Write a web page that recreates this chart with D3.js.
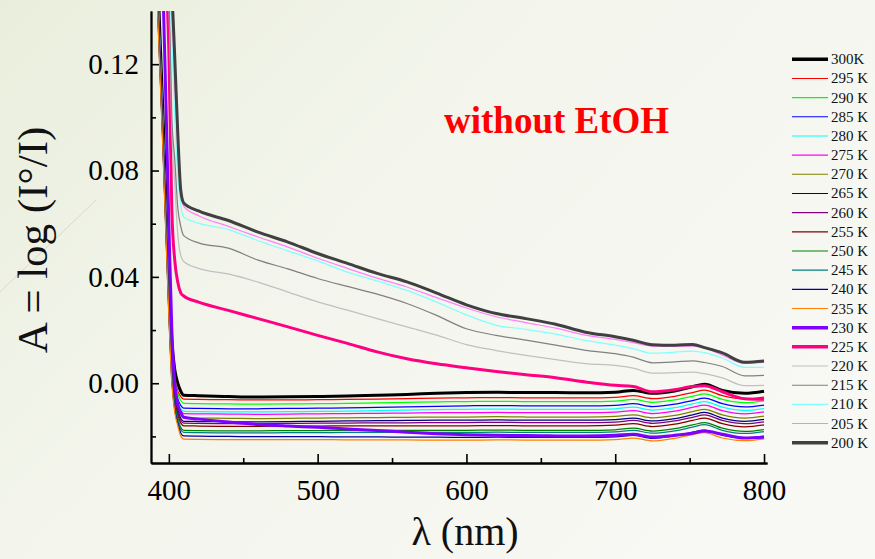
<!DOCTYPE html>
<html>
<head>
<meta charset="utf-8">
<script src="https://cdn.jsdelivr.net/npm/d3@7"></script>
<style>
  html, body { margin: 0; padding: 0; background: #f2f4ea; }
  svg { display: block; }
</style>
</head>
<body>
<div id="chart"></div>
<script>
// Wavelength grid (nm) shared by every spectrum
const wavelengths = [392, 396, 400, 402, 404, 406, 408, 410, 420, 440, 460, 480, 500, 520, 540, 560, 580, 600, 620, 640, 660, 680, 700, 712, 725, 740, 752, 760, 772, 787, 800];

// Temperature labels (legend order)
const temps = ["300K", "295 K", "290 K", "285 K", "280 K", "275 K", "270 K", "265 K", "260 K", "255 K", "250 K", "245 K", "240 K", "235 K", "230 K", "225 K", "220 K", "215 K", "210 K", "205 K", "200 K"];

// Absorbance A = log(I°/I) for each temperature
const a300 = [0.160, 0.102, 0.040, 0.016, 0.005, 0.000, -0.003, -0.0045, -0.0047, -0.0050, -0.0052, -0.0051, -0.0050, -0.0048, -0.0045, -0.0042, -0.0038, -0.0035, -0.0034, -0.0035, -0.0035, -0.0036, -0.0034, -0.0027, -0.0038, -0.0029, -0.0013, -0.0004, -0.0027, -0.0038, -0.0030];
const a295 = [0.158, 0.100, 0.037, 0.013, 0.002, -0.003, -0.005, -0.0060, -0.0061, -0.0062, -0.0063, -0.0063, -0.0062, -0.0061, -0.0060, -0.0058, -0.0056, -0.0055, -0.0054, -0.0055, -0.0055, -0.0055, -0.0053, -0.0047, -0.0058, -0.0049, -0.0035, -0.0026, -0.0047, -0.0059, -0.0052];
const a290 = [0.157, 0.099, 0.036, 0.012, 0.001, -0.004, -0.0065, -0.0076, -0.0077, -0.0078, -0.0079, -0.0078, -0.0077, -0.0076, -0.0074, -0.0072, -0.0070, -0.0069, -0.0068, -0.0069, -0.0069, -0.0069, -0.0067, -0.0061, -0.0072, -0.0063, -0.0049, -0.0040, -0.0061, -0.0073, -0.0066];
const a285 = [0.156, 0.098, 0.035, 0.010, -0.001, -0.006, -0.0083, -0.0094, -0.0095, -0.0096, -0.0096, -0.0095, -0.0094, -0.0093, -0.0091, -0.0089, -0.0087, -0.0085, -0.0084, -0.0085, -0.0085, -0.0085, -0.0083, -0.0077, -0.0088, -0.0079, -0.0065, -0.0056, -0.0077, -0.0089, -0.0082];
const a280 = [0.155, 0.097, 0.034, 0.009, -0.002, -0.007, -0.0095, -0.0106, -0.0107, -0.0108, -0.0108, -0.0107, -0.0106, -0.0105, -0.0103, -0.0101, -0.0099, -0.0098, -0.0097, -0.0098, -0.0098, -0.0098, -0.0096, -0.0090, -0.0101, -0.0092, -0.0078, -0.0069, -0.0090, -0.0102, -0.0095];
const a275 = [0.154, 0.096, 0.033, 0.008, -0.003, -0.008, -0.0103, -0.0114, -0.0115, -0.0116, -0.0117, -0.0116, -0.0115, -0.0114, -0.0113, -0.0112, -0.0111, -0.0111, -0.0110, -0.0111, -0.0111, -0.0111, -0.0109, -0.0103, -0.0114, -0.0105, -0.0091, -0.0082, -0.0103, -0.0115, -0.0108];
const a270 = [0.153, 0.095, 0.032, 0.007, -0.004, -0.009, -0.0119, -0.0130, -0.0131, -0.0132, -0.0133, -0.0132, -0.0131, -0.0130, -0.0129, -0.0128, -0.0127, -0.0127, -0.0126, -0.0127, -0.0127, -0.0127, -0.0125, -0.0119, -0.0130, -0.0121, -0.0107, -0.0098, -0.0119, -0.0131, -0.0124];
const a265 = [0.152, 0.094, 0.031, 0.006, -0.005, -0.010, -0.0132, -0.0143, -0.0144, -0.0145, -0.0145, -0.0144, -0.0143, -0.0142, -0.0141, -0.0140, -0.0139, -0.0139, -0.0138, -0.0139, -0.0139, -0.0139, -0.0137, -0.0131, -0.0142, -0.0133, -0.0119, -0.0110, -0.0131, -0.0143, -0.0136];
const a260 = [0.151, 0.093, 0.030, 0.005, -0.006, -0.011, -0.0139, -0.0150, -0.0151, -0.0152, -0.0152, -0.0151, -0.0150, -0.0150, -0.0149, -0.0149, -0.0148, -0.0148, -0.0147, -0.0148, -0.0148, -0.0148, -0.0146, -0.0140, -0.0151, -0.0142, -0.0128, -0.0119, -0.0140, -0.0152, -0.0145];
const a255 = [0.150, 0.092, 0.029, 0.004, -0.007, -0.012, -0.0149, -0.0160, -0.0161, -0.0162, -0.0162, -0.0161, -0.0161, -0.0160, -0.0160, -0.0160, -0.0160, -0.0160, -0.0159, -0.0160, -0.0160, -0.0160, -0.0158, -0.0152, -0.0163, -0.0154, -0.0140, -0.0131, -0.0152, -0.0164, -0.0157];
const a250 = [0.149, 0.091, 0.028, 0.003, -0.008, -0.013, -0.0166, -0.0177, -0.0178, -0.0179, -0.0179, -0.0178, -0.0178, -0.0177, -0.0177, -0.0177, -0.0177, -0.0177, -0.0176, -0.0177, -0.0177, -0.0177, -0.0175, -0.0169, -0.0180, -0.0171, -0.0157, -0.0148, -0.0169, -0.0181, -0.0174];
const a245 = [0.148, 0.090, 0.027, 0.002, -0.009, -0.014, -0.0174, -0.0185, -0.0186, -0.0187, -0.0187, -0.0186, -0.0186, -0.0185, -0.0185, -0.0185, -0.0185, -0.0185, -0.0184, -0.0185, -0.0185, -0.0185, -0.0183, -0.0177, -0.0188, -0.0179, -0.0165, -0.0156, -0.0177, -0.0189, -0.0182];
const a240 = [0.147, 0.089, 0.026, 0.001, -0.010, -0.015, -0.0187, -0.0198, -0.0199, -0.0200, -0.0201, -0.0201, -0.0201, -0.0202, -0.0202, -0.0203, -0.0203, -0.0204, -0.0203, -0.0204, -0.0204, -0.0204, -0.0202, -0.0196, -0.0207, -0.0198, -0.0184, -0.0176, -0.0196, -0.0206, -0.0199];
const a235 = [0.146, 0.088, 0.025, 0.000, -0.011, -0.016, -0.0199, -0.0210, -0.0211, -0.0212, -0.0212, -0.0212, -0.0212, -0.0213, -0.0213, -0.0213, -0.0214, -0.0214, -0.0213, -0.0214, -0.0214, -0.0214, -0.0212, -0.0206, -0.0217, -0.0207, -0.0193, -0.0186, -0.0206, -0.0216, -0.0209];
const a230 = [0.190, 0.150, 0.060, 0.020, 0.000, -0.008, -0.011, -0.0128, -0.0135, -0.0146, -0.0155, -0.0161, -0.0166, -0.0172, -0.0178, -0.0184, -0.0190, -0.0194, -0.0196, -0.0197, -0.0198, -0.0198, -0.0196, -0.0192, -0.0202, -0.0196, -0.0188, -0.0180, -0.0192, -0.0206, -0.0203];
const a225 = [0.200, 0.170, 0.125, 0.065, 0.046, 0.038, 0.034, 0.0328, 0.0305, 0.0274, 0.0243, 0.0212, 0.0180, 0.0150, 0.0118, 0.0092, 0.0073, 0.0058, 0.0044, 0.0032, 0.0021, 0.0005, -0.0008, -0.0012, -0.0032, -0.0024, -0.0012, -0.0009, -0.0032, -0.0058, -0.0060];
const a220 = [0.200, 0.175, 0.145, 0.095, 0.075, 0.056, 0.048, 0.0458, 0.0432, 0.0411, 0.0380, 0.0343, 0.0306, 0.0275, 0.0243, 0.0212, 0.0181, 0.0145, 0.0123, 0.0105, 0.0089, 0.0074, 0.0067, 0.0057, 0.0038, 0.0040, 0.0042, 0.0036, 0.0020, -0.0009, -0.0008];
const a215 = [0.200, 0.180, 0.150, 0.100, 0.084, 0.066, 0.059, 0.0555, 0.0528, 0.0508, 0.0463, 0.0430, 0.0394, 0.0364, 0.0335, 0.0300, 0.0255, 0.0205, 0.0180, 0.0162, 0.0143, 0.0124, 0.0111, 0.0098, 0.0077, 0.0080, 0.0084, 0.0078, 0.0063, 0.0028, 0.0030];
const a210 = [0.200, 0.180, 0.155, 0.130, 0.100, 0.078, 0.067, 0.0625, 0.0602, 0.0578, 0.0536, 0.0498, 0.0460, 0.0418, 0.0385, 0.0349, 0.0305, 0.0257, 0.0218, 0.0203, 0.0185, 0.0161, 0.0143, 0.0130, 0.0113, 0.0117, 0.0121, 0.0115, 0.0095, 0.0060, 0.0060];
const a205 = [0.200, 0.185, 0.160, 0.142, 0.112, 0.088, 0.073, 0.0665, 0.0630, 0.0590, 0.0550, 0.0512, 0.0470, 0.0432, 0.0395, 0.0362, 0.0322, 0.0283, 0.0250, 0.0228, 0.0207, 0.0181, 0.0165, 0.0153, 0.0140, 0.0139, 0.0140, 0.0132, 0.0106, 0.0075, 0.0078];
const a200 = [0.200, 0.190, 0.165, 0.148, 0.122, 0.094, 0.0725, 0.0678, 0.0648, 0.0612, 0.0568, 0.0531, 0.0488, 0.0451, 0.0413, 0.0381, 0.0339, 0.0295, 0.0262, 0.0243, 0.0222, 0.0192, 0.0175, 0.0162, 0.0145, 0.0143, 0.0146, 0.0134, 0.0114, 0.0079, 0.0084];

const seriesValues = [a300, a295, a290, a285, a280, a275, a270, a265, a260, a255, a250, a245, a240, a235, a230, a225, a220, a215, a210, a205, a200];
const seriesColors = ["#000000", "#ff0000", "#00ff00", "#0000ff", "#00ffff", "#ff00ff", "#808000", "#000080", "#800080", "#800000", "#008000", "#008080", "#0000a0", "#ff8000", "#8000ff", "#ff0080", "#c0c0c0", "#808080", "#80ffff", "#ff80ff", "#404040"];
const seriesWidths = [3, 1.25, 1.25, 1.25, 1.25, 1.25, 1.25, 1.25, 1.25, 1.25, 1.25, 1.25, 1.25, 1.25, 3, 3, 1.25, 1.25, 1.25, 1.25, 3];

const xTicks = [400, 500, 600, 700, 800];
const xMinor = [450, 550, 650, 750];
const yTicks = [0.00, 0.04, 0.08, 0.12];
const yMinor = [-0.02, 0.02, 0.06, 0.10];

const W = 875, H = 559;
const plot = { left: 151, right: 767, top: 11, bottom: 463 };

const svg = d3.select("#chart").append("svg")
  .attr("width", W).attr("height", H)
  .attr("viewBox", `0 0 ${W} ${H}`);

const defs = svg.append("defs");
const bg = defs.append("linearGradient").attr("id", "bg")
  .attr("x1", "0").attr("y1", "0").attr("x2", "1").attr("y2", "0.6");
bg.append("stop").attr("offset", "0").attr("stop-color", "#e9eedc");
bg.append("stop").attr("offset", "0.45").attr("stop-color", "#f3f5ec");
bg.append("stop").attr("offset", "1").attr("stop-color", "#f8f8f4");
defs.append("clipPath").attr("id", "plotClip").append("rect")
  .attr("x", plot.left).attr("y", plot.top)
  .attr("width", plot.right - plot.left).attr("height", plot.bottom - plot.top);

svg.append("rect").attr("width", W).attr("height", H).attr("fill", "url(#bg)");
// faint decorative stroke on the slide background
svg.append("line").attr("x1", 0).attr("y1", 292).attr("x2", 96).attr("y2", 200)
  .attr("stroke", "#d6dacb").attr("stroke-width", 1);

const x = d3.scaleLinear().domain([388, 802]).range([plot.left, plot.right]);
const y = d3.scaleLinear().domain([-0.03, 0.14]).range([plot.bottom, plot.top]);

const serif = "'Liberation Serif', 'Times New Roman', serif";

// spectra
const line = d3.line()
  .x((d, i) => x(wavelengths[i]))
  .y(d => y(d))
  .curve(d3.curveMonotoneX);

const gLines = svg.append("g").attr("clip-path", "url(#plotClip)");
seriesValues.forEach((vals, k) => {
  gLines.append("path")
    .datum(vals)
    .attr("d", line)
    .attr("fill", "none")
    .attr("stroke", seriesColors[k])
    .attr("stroke-width", seriesWidths[k])
    .attr("stroke-linejoin", "round");
});

// axes (ticks point into the plot)
const xAxis = svg.append("g").attr("transform", `translate(0,${plot.bottom})`)
  .call(d3.axisBottom(x).tickValues(xTicks).tickSizeInner(-9).tickSizeOuter(0).tickPadding(16).tickFormat(d3.format("d")));
const xAxisMinor = svg.append("g").attr("transform", `translate(0,${plot.bottom})`)
  .call(d3.axisBottom(x).tickValues(xMinor).tickSizeInner(-5).tickSizeOuter(0).tickFormat(""));
const yAxis = svg.append("g").attr("transform", `translate(${plot.left},0)`)
  .call(d3.axisLeft(y).tickValues(yTicks).tickSizeInner(-8).tickSizeOuter(0).tickPadding(12).tickFormat(d3.format(".2f")));
const yAxisMinor = svg.append("g").attr("transform", `translate(${plot.left},0)`)
  .call(d3.axisLeft(y).tickValues(yMinor).tickSizeInner(-5).tickSizeOuter(0).tickFormat(""));

[xAxis, xAxisMinor, yAxis, yAxisMinor].forEach(g => {
  g.select(".domain").attr("stroke", "#000").attr("stroke-width", 1.8);
  g.selectAll(".tick line").attr("stroke", "#000").attr("stroke-width", 1.6);
  g.selectAll(".tick text").attr("fill", "#000").style("font-family", serif).style("font-size", "29px");
});

// axis titles
svg.append("text")
  .attr("transform", `translate(47,240) rotate(-90)`)
  .attr("text-anchor", "middle")
  .style("font-family", serif).style("font-size", "43px").attr("fill", "#111")
  .text("A = log (I°/I)");
svg.append("text")
  .attr("x", 465).attr("y", 545)
  .attr("text-anchor", "middle")
  .style("font-family", serif).style("font-size", "40px").attr("fill", "#111")
  .text("λ (nm)");

// annotation
svg.append("text")
  .attr("x", 444).attr("y", 133)
  .style("font-family", serif).style("font-size", "37px").style("font-weight", "bold")
  .attr("fill", "#ff0000")
  .text("without EtOH");

// legend
const legend = svg.append("g");
const legY = d3.scaleLinear().domain([0, temps.length - 1]).range([59.3, 442.7]);
temps.forEach((t, k) => {
  const yy = legY(k);
  legend.append("line")
    .attr("x1", 792).attr("x2", 828).attr("y1", yy).attr("y2", yy)
    .attr("stroke", seriesColors[k])
    .attr("stroke-width", seriesWidths[k] > 2 ? 3.5 : 1.1);
  legend.append("text")
    .attr("x", 831).attr("y", yy + 5)
    .style("font-family", serif).style("font-size", "15px").attr("fill", "#111")
    .text(t);
});
</script>
</body>
</html>
